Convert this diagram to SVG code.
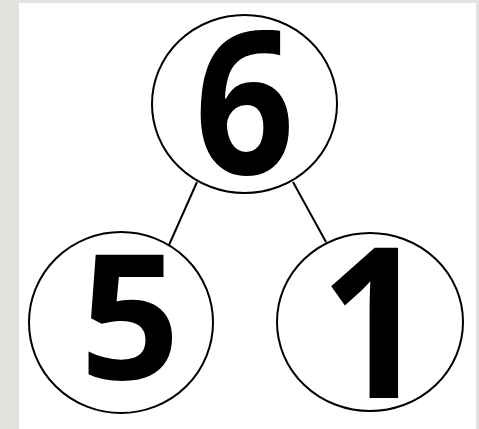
<svg xmlns="http://www.w3.org/2000/svg" width="479" height="429" viewBox="0 0 479 429">
<style>
.node{fill:#fff;stroke:#000;stroke-width:2}
.lbl{font-family:"Open Sans","Liberation Sans",sans-serif;font-weight:bold;fill:#000;text-anchor:middle}
.edge{stroke:#000;stroke-width:2;fill:none}
</style>
<rect x="0" y="0" width="479" height="429" fill="#e4e2de"/>
<rect x="19" y="3" width="457" height="426" fill="#fff"/>
<g id="connectors">
<line class="edge" x1="197" y1="182" x2="169" y2="245"/>
<line class="edge" x1="293" y1="182" x2="326" y2="242"/>
</g>
<g id="node6">
<ellipse class="node" cx="244.5" cy="104" rx="92.5" ry="89"/>
<text class="lbl" transform="translate(244.5,174) scale(0.88,1)" font-size="199">6</text>
</g>
<g id="node5">
<ellipse class="node" cx="121" cy="322.5" rx="92" ry="90.5"/>
<text class="lbl" x="130" y="379" font-size="175">5</text>
</g>
<g id="node1">
<ellipse class="node" cx="370" cy="322" rx="93" ry="89"/>
<text class="lbl" transform="translate(374,398) scale(0.9,1)" font-size="210">1</text>
</g>
</svg>
